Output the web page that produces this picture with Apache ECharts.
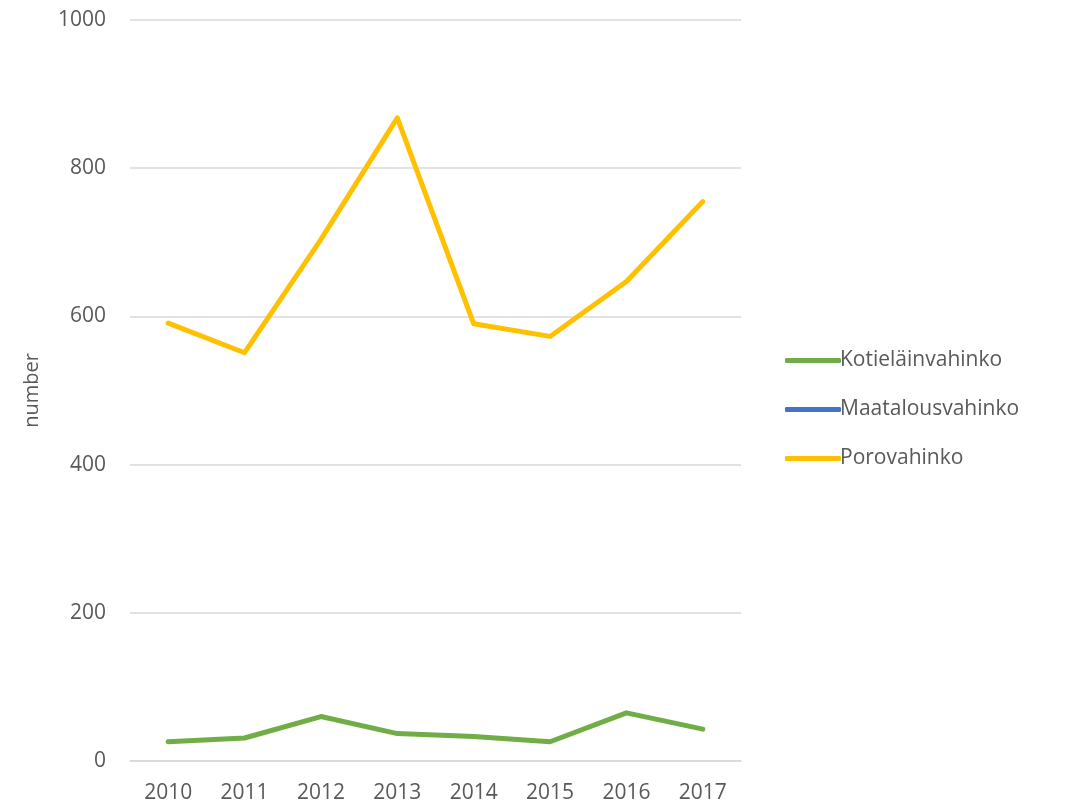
<!DOCTYPE html>
<html>
<head>
<meta charset="utf-8">
<script src="https://cdn.jsdelivr.net/npm/echarts@6/dist/echarts.min.js"></script>
<style>
  html, body { margin: 0; padding: 0; background: #fff; }
  #chart { width: 1066px; height: 807px; }
</style>
</head>
<body>
<div id="chart"></div>
<script>
// vuodet
const years = ['2010', '2011', '2012', '2013', '2014', '2015', '2016', '2017']
// sarjat
const kotielainvahinko = [26, 31, 60, 37, 33, 26, 65, 43]
const maatalousvahinko = []
const porovahinko = [591, 551, 704, 868, 590, 573, 647, 755]

const chart = echarts.init(document.getElementById('chart'))
const font = 'Open Sans'
const textColor = '#595959'

chart.setOption({
  backgroundColor: '#fff',
  animation: false,
  textStyle: { fontFamily: font },
  grid: { left: 130, right: 325, top: 20, bottom: 46 },
  legend: {
    orient: 'vertical',
    left: 780,
    top: 345,
    icon: 'roundRect',
    itemWidth: 56,
    itemHeight: 5,
    itemGap: 28,
    textStyle: { fontFamily: font, fontSize: 21, color: textColor, padding: [0, 0, 0, -6] },
    data: ['Kotieläinvahinko', 'Maatalousvahinko', 'Porovahinko']
  },
  xAxis: {
    type: 'category',
    data: years,
    axisLine: { lineStyle: { color: '#d9d9d9', width: 1.5 } },
    axisTick: { show: false },
    axisLabel: { fontFamily: font, fontSize: 21, color: textColor, margin: 22 }
  },
  yAxis: {
    type: 'value',
    min: 0,
    max: 1000,
    interval: 200,
    name: 'number',
    nameLocation: 'middle',
    nameRotate: 90,
    nameGap: 88,
    nameTextStyle: { fontFamily: font, fontSize: 20, color: textColor },
    axisLine: { show: false },
    axisTick: { show: false },
    axisLabel: {
      fontFamily: font,
      fontSize: 21,
      color: textColor,
      margin: 24,
      formatter: function (v) { return String(v) }
    },
    splitLine: { lineStyle: { color: '#d9d9d9', width: 1.5 } }
  },
  series: [
    {
      name: 'Kotieläinvahinko',
      type: 'line',
      data: kotielainvahinko,
      symbol: 'none',
      color: '#70ad47',
      lineStyle: { width: 5, cap: 'round', join: 'round' }
    },
    {
      name: 'Maatalousvahinko',
      type: 'line',
      data: maatalousvahinko,
      symbol: 'none',
      color: '#4472c4',
      lineStyle: { width: 5, cap: 'round', join: 'round' }
    },
    {
      name: 'Porovahinko',
      type: 'line',
      data: porovahinko,
      symbol: 'none',
      color: '#ffc000',
      lineStyle: { width: 5, cap: 'round', join: 'round' }
    }
  ]
})
</script>
</body>
</html>
